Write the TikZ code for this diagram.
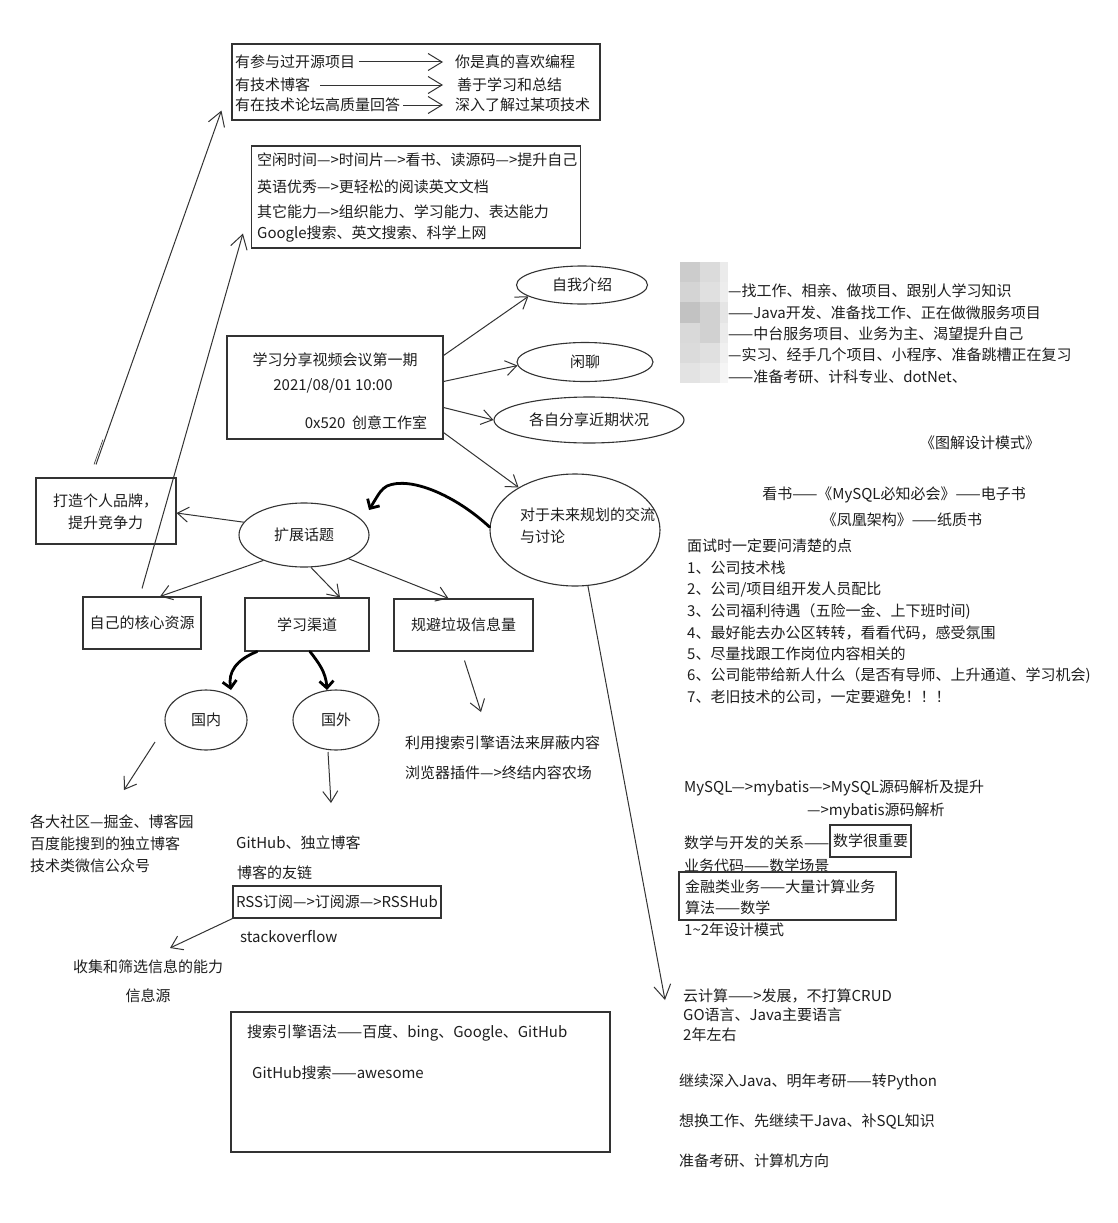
\documentclass[tikz,border=0pt]{standalone}
\usepackage{fontspec}
\setmainfont{Noto Sans CJK SC}
\usetikzlibrary{arrows.meta,calc,shapes.geometric}
\definecolor{ink}{HTML}{333333}
\definecolor{txt}{HTML}{1E1E1E}
\begin{document}
\begin{tikzpicture}[x=1pt,y=-1pt,
  every node/.style={font=\fontsize{15}{18}\selectfont, text=txt},
  lbl/.style={anchor=west, inner sep=0pt},
  mid/.style={anchor=center, inner sep=0pt},
  boxnode/.style={draw=ink, line width=1.1pt, rectangle, inner sep=0pt},
  ellnode/.style={draw=ink, line width=1.1pt, ellipse, inner sep=0pt},
  conn/.style={draw=ink, line width=1pt, -{Straight Barb[length=11pt,width=15pt,line width=1pt]}},
  bigconn/.style={draw=ink, line width=1pt, -{Straight Barb[length=14pt,width=17pt,line width=1pt]}},
  thickconn/.style={draw=black, line width=2.8pt, line cap=round, -{Straight Barb[length=7pt,width=14pt,line width=2.8pt]}},
  ghost/.style={draw=ink, line width=0.6pt},
]
\useasboundingbox[fill=white] (0,0) rectangle (1117,1223);

% ---------- top box: signs of real interest ----------
\node[boxnode, minimum width=368pt, minimum height=76pt] (topbox) at (416,82) {};
\node[lbl] (t1) at (235,62) {有参与过开源项目};
\node[lbl] (t2) at (235,85) {有技术博客};
\node[lbl] (t3) at (235,105) {有在技术论坛高质量回答};
\node[lbl] (r1) at (455,62) {你是真的喜欢编程};
\node[lbl] (r2) at (457,85) {善于学习和总结};
\node[lbl] (r3) at (455,105) {深入了解过某项技术};
\draw[bigconn] (t1.east) ++(4,0) coordinate (t1a) -- ([xshift=-12pt]r1.west);
\draw[bigconn] (t2.east) ++(10,0) coordinate (t2a) -- ([xshift=-14pt]r2.west);
\draw[bigconn] (t3.east) ++(3,0) coordinate (t3a) -- ([xshift=-12pt]r3.west);

% ---------- second box: using time and skills ----------
\node[boxnode, minimum width=329pt, minimum height=102pt] (box2) at (416,197) {};
\node[lbl] (b1) at (257,160) {空闲时间—>时间片—>看书、读源码—>提升自己};
\node[lbl] (b2) at (257,187) {英语优秀—>更轻松的阅读英文文档};
\node[lbl] (b3) at (257,212) {其它能力—>组织能力、学习能力、表达能力};
\node[lbl] (b4) at (257,234) {Google搜索、英文搜索、科学上网};

% ---------- meeting box ----------
\node[boxnode, minimum width=216pt, minimum height=103pt] (meet) at (335,387.5) {};
\node[mid] (m1) at (335,360) {学习分享视频会议第一期};
\node[mid] (m2) at (333,386) {2021/08/01 10:00};
\node[mid] (m3) at (366,423) {0x520\ \ 创意工作室};

% ---------- agenda ellipses ----------
\node[ellnode, minimum width=131pt, minimum height=38pt] (intro) at (582,285) {自我介绍};
\node[ellnode, minimum width=136pt, minimum height=39pt] (chat) at (585,362) {闲聊};
\node[ellnode, minimum width=190pt, minimum height=46pt] (share) at (589,420) {各自分享近期状况};
\node[ellnode, minimum width=170pt, minimum height=112pt] (plan) at (575,530) {};
\node[lbl, align=left] (plantxt) at (520,526) {对于未来规划的交流\\[4pt]与讨论};

\draw[conn] ([yshift=32pt]meet.east) -- (intro.192);
\draw[conn] ([yshift=6pt]meet.east) -- (chat.183);
\draw[conn] ([yshift=-20pt]meet.east) -- (share.west);
\draw[conn] ([yshift=7pt]meet.south east) -- (plan.143);

% ---------- extended topics ----------
\node[ellnode, minimum width=130pt, minimum height=64pt] (ext) at (304,535) {扩展话题};
\node[boxnode, minimum width=140pt, minimum height=66pt] (brand) at (106,511) {};
\node[lbl] (br1) at (53,501) {打造个人品牌，};
\node[lbl] (br2) at (68,523) {提升竞争力};
\node[boxnode, minimum width=118pt, minimum height=52pt] (core) at (142,623) {自己的核心资源};
\node[boxnode, minimum width=124pt, minimum height=53pt] (chan) at (307,624.5) {学习渠道};
\node[boxnode, minimum width=139pt, minimum height=52pt] (spam) at (463.5,625) {规避垃圾信息量};

\draw[thickconn] (plan.178) .. controls (455,495) and (410,476) .. (387,486)
  .. controls (381,490) .. (369,510);
\draw[conn] (ext.168) -- ([yshift=-2pt]brand.east);
\draw[conn] (ext.212) -- ([xshift=18pt]core.north);
\draw[conn] (ext.282) -- ([xshift=33pt]chan.north);
\draw[conn] (ext.332) -- ([xshift=-15pt]spam.north);

% long arrows up to the two upper boxes
\coordinate (upA) at ([xshift=-10pt,yshift=13pt]brand.north);
\coordinate (upB) at ([yshift=8pt]core.north);
\draw[bigconn] (upA) -- ([xshift=-10pt,yshift=10pt]topbox.south west);
\draw[ghost] ([xshift=-2pt]upA) -- ($([xshift=-10pt,yshift=10pt]topbox.south west)!0.93!([xshift=-2pt]upA)$);
\draw[bigconn] (upB) -- ([xshift=-8pt,yshift=15pt]box2.south west);

% ---------- domestic / abroad ----------
\node[ellnode, minimum width=82pt, minimum height=60pt] (dom) at (206,720) {国内};
\node[ellnode, minimum width=86pt, minimum height=60pt] (abroad) at (336,720) {国外};
\draw[thickconn] ([xshift=-50pt]chan.south) .. controls (236,660) and (228,672) .. (231,690);
\draw[thickconn] ([xshift=3pt]chan.south) .. controls (318,662) and (326,672) .. (327,690);

\coordinate (domA) at (155,742);
\coordinate (domB) at (124,790);
\draw[conn] (domA) -- (domB);
\coordinate (abA) at (328,752);
\coordinate (abB) at (331,803);
\draw[conn] (abA) -- (abB);
\coordinate (spA) at ([xshift=1pt,yshift=-9pt]spam.south);
\coordinate (spB) at (481,712);
\draw[conn] (spA) -- (spB);

\node[lbl] (sp1) at (405,743) {利用搜索引擎语法来屏蔽内容};
\node[lbl] (sp2) at (405,773) {浏览器插件—>终结内容农场};

\node[lbl] (d1) at (30,822) {各大社区—掘金、博客园};
\node[lbl] (d2) at (30,844) {百度能搜到的独立博客};
\node[lbl] (d3) at (30,866) {技术类微信公众号};

\node[lbl] (a1) at (236,843) {GitHub、独立博客};
\node[lbl] (a2) at (237,873) {博客的友链};
\node[boxnode, minimum width=208pt, minimum height=32pt] (rss) at (337,902) {RSS订阅—>订阅源—>RSSHub};
\node[lbl] (a3) at (240,937) {stackoverflow};
\coordinate (infoEnd) at (170,948);
\draw[conn] (rss.south west) -- (infoEnd);
\node[lbl] (i1) at (73,967) {收集和筛选信息的能力};
\node[mid] (i2) at (148,996) {信息源};

% ---------- search syntax box ----------
\node[boxnode, minimum width=379pt, minimum height=140pt] (search) at (420.5,1082) {};
\node[lbl] (s1) at (247,1033) {搜索引擎语法——百度、bing、Google、GitHub};
\node[lbl] (s2) at (252,1073) {GitHub搜索——awesome};

% ---------- long arrow from the planning ellipse ----------
\coordinate (planEnd) at (665,1000);
\draw[bigconn] (plan.283) -- (planEnd);

% ---------- pixelated name column ----------
\foreach \c/\r/\g in {0/0/80,1/0/86,2/0/92,
                      0/1/83,1/1/88,2/1/93,
                      0/2/76,1/2/82,2/2/90,
                      0/3/85,1/3/82,2/3/92,
                      0/4/86,1/4/88,2/4/94,
                      0/5/89,1/5/91,2/5/96}{
  \pgfmathsetmacro{\cw}{\c==2 ? 8 : 20}
  \fill[black!\the\numexpr100-\g\relax] (680+20*\c,262+20.2*\r) rectangle ++(\cw,20.2);
}
\node[lbl] (p1) at (728,291) {—找工作、相亲、做项目、跟别人学习知识};
\node[lbl] (p2) at (728,313) {——Java开发、准备找工作、正在做微服务项目};
\node[lbl] (p3) at (728,334) {——中台服务项目、业务为主、渴望提升自己};
\node[lbl] (p4) at (728,355) {—实习、经手几个项目、小程序、准备跳槽正在复习};
\node[lbl] (p5) at (728,377) {——准备考研、计科专业、dotNet、};

% ---------- books and interview checklist ----------
\node[mid] (k0) at (980,443) {《图解设计模式》};
\node[mid] (k1) at (894,495) {看书——《MySQL必知必会》——电子书};
\node[mid] (k2) at (902,520) {《凤凰架构》——纸质书};
\node[lbl] (q0) at (687,546) {面试时一定要问清楚的点};
\node[lbl] (q1) at (687,568) {1、公司技术栈};
\node[lbl] (q2) at (687,590) {2、公司/项目组开发人员配比};
\node[lbl] (q3) at (687,612) {3、公司福利待遇（五险一金、上下班时间)};
\node[lbl] (q4) at (687,633) {4、最好能去办公区转转，看看代码，感受氛围};
\node[lbl] (q5) at (687,654) {5、尽量找跟工作岗位内容相关的};
\node[lbl] (q6) at (687,676) {6、公司能带给新人什么（是否有导师、上升通道、学习机会)};
\node[lbl] (q7) at (687,697) {7、老旧技术的公司，一定要避免！！！};

% ---------- learning paths ----------
\node[lbl] (n1) at (684,788) {MySQL—>mybatis—>MySQL源码解析及提升};
\node[lbl] (n2) at (807,811) {—>mybatis源码解析};
\node[lbl] (n3) at (684,843) {数学与开发的关系——};
\node[boxnode, minimum width=81pt, minimum height=32pt] (mathbox) at (870.5,841) {数学很重要};
\node[lbl] (n4) at (684,866) {业务代码——数学场景};
\node[boxnode, minimum width=217pt, minimum height=48pt] (finbox) at (787.5,896) {};
\node[lbl] (n5) at (685,887) {金融类业务——大量计算业务};
\node[lbl] (n6) at (685,908) {算法——数学};
\node[lbl] (n7) at (684,930) {1\textasciitilde2年设计模式};

\node[lbl] (c1) at (683,996) {云计算——>发展，不打算CRUD};
\node[lbl] (c2) at (683,1015) {GO语言、Java主要语言};
\node[lbl] (c3) at (683,1035) {2年左右};
\node[lbl] (c4) at (679,1082) {继续深入Java、明年考研——转Python};
\node[lbl] (c5) at (679,1122) {想换工作、先继续干Java、补SQL知识};
\node[lbl] (c6) at (679,1161) {准备考研、计算机方向};
\end{tikzpicture}
\end{document}
